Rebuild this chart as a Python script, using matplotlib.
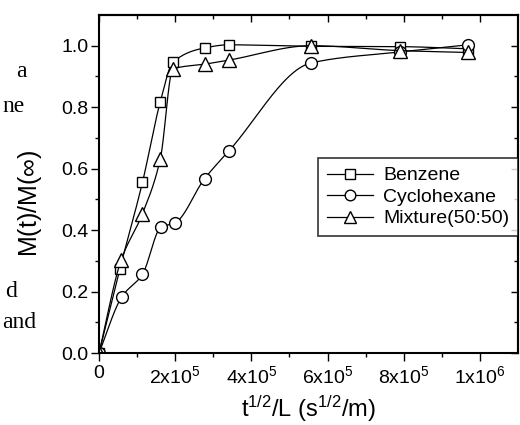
import numpy as np
import matplotlib
matplotlib.use("Agg")
import matplotlib.pyplot as plt

plt.rcParams['font.family'] = ['Liberation Sans', 'DejaVu Sans']
plt.rcParams['mathtext.fontset'] = 'custom'
plt.rcParams['mathtext.rm'] = 'Liberation Sans'
plt.rcParams['mathtext.it'] = 'Liberation Sans:italic'
plt.rcParams['mathtext.bf'] = 'Liberation Sans:bold'

# ---- data ----
benzene_x = [0, 0.55e5, 1.14e5, 1.61e5, 1.94e5, 2.78e5, 3.40e5, 5.57e5, 7.91e5, 9.69e5]
benzene_y = [0.0, 0.275, 0.555, 0.818, 0.946, 0.993, 1.003, 0.998, 0.997, 0.99]

cyclo_x = [0, 0.60e5, 1.14e5, 1.63e5, 1.99e5, 2.77e5, 3.40e5, 5.57e5, 7.91e5, 9.69e5]
cyclo_y = [0.0, 0.183, 0.256, 0.41, 0.423, 0.567, 0.656, 0.944, 0.98, 1.003]

mix_x = [0, 0.58e5, 1.14e5, 1.61e5, 1.94e5, 2.78e5, 3.40e5, 5.57e5, 7.91e5, 9.69e5]
mix_y = [0.0, 0.302, 0.453, 0.632, 0.924, 0.94, 0.953, 1.0, 0.984, 0.978]

x_ticks = [0, 2e5, 4e5, 6e5, 8e5, 1e6]
x_ticklabels = ['0', '2x10$^5$', '4x10$^5$', '6x10$^5$', '8x10$^5$', '1x10$^6$']
y_ticks = [0.0, 0.2, 0.4, 0.6, 0.8, 1.0]
y_ticklabels = ['0.0', '0.2', '0.4', '0.6', '0.8', '1.0']


def pchip(x, y, xn):
    x = np.asarray(x, float); y = np.asarray(y, float)
    h = np.diff(x); d = np.diff(y) / h
    m = np.zeros_like(y)
    for k in range(1, len(x) - 1):
        if d[k - 1] * d[k] <= 0:
            m[k] = 0
        else:
            w1 = 2 * h[k] + h[k - 1]; w2 = h[k] + 2 * h[k - 1]
            m[k] = (w1 + w2) / (w1 / d[k - 1] + w2 / d[k])
    m[0] = d[0]; m[-1] = d[-1]
    idx = np.clip(np.searchsorted(x, xn) - 1, 0, len(x) - 2)
    t = (xn - x[idx]) / h[idx]
    h00 = 2 * t**3 - 3 * t**2 + 1; h10 = t**3 - 2 * t**2 + t
    h01 = -2 * t**3 + 3 * t**2; h11 = t**3 - t**2
    return h00 * y[idx] + h10 * h[idx] * m[idx] + h01 * y[idx + 1] + h11 * h[idx] * m[idx + 1]


W, H = 520, 425
fig = plt.figure(figsize=(W / 100, H / 100), dpi=100)
ax = fig.add_axes([99 / W, 1 - 353 / H, (518 - 99) / W, (353 - 15) / H])

series = [
    (benzene_x, benzene_y, 's', 7.5, 'Benzene'),
    (cyclo_x, cyclo_y, 'o', 8.5, 'Cyclohexane'),
    (mix_x, mix_y, '^', 9.5, 'Mixture(50:50)'),
]
for xs, ys, mk, ms, lab in series:
    xn = np.linspace(xs[0], xs[-1], 600)
    ax.plot(xn, pchip(xs, ys, xn), color='black', lw=0.9)
    ax.plot(xs, ys, linestyle='none', marker=mk, ms=ms, mfc='white', mec='black', mew=1.0)
    ax.plot([], [], color='black', lw=0.9, marker=mk, ms=ms * 0.9, mfc='white', mec='black',
            mew=1.0, label=lab)

ax.set_xlim(0, 1.1e6)
ax.set_ylim(0, 1.1)
ax.set_xticks(x_ticks)
ax.set_xticklabels(x_ticklabels)
ax.set_yticks(y_ticks)
ax.set_yticklabels(y_ticklabels)
ax.set_xticks(np.arange(1e5, 1.1e6, 2e5), minor=True)
ax.set_yticks(np.arange(0.1, 1.1, 0.2), minor=True)

for s in ax.spines.values():
    s.set_linewidth(1.5)
ax.tick_params(which='both', labelsize=14, width=1.0)
ax.tick_params(which='major', length=5.5)
ax.tick_params(which='minor', length=3)
ax.tick_params(axis='x', which='both', direction='out', top=False, pad=3)
ax.tick_params(axis='y', which='both', direction='out', right=False, pad=2)
# mirrored inward ticks on top/right
ax2 = ax.secondary_xaxis('top')
ax2.set_xticks(x_ticks); ax2.set_xticks(np.arange(1e5, 1.1e6, 2e5), minor=True)
ax2.tick_params(which='both', direction='in', labeltop=False, width=1.0)
ax2.tick_params(which='major', length=5); ax2.tick_params(which='minor', length=3)
ax2.spines['top'].set_linewidth(1.5)
ay2 = ax.secondary_yaxis('right')
ay2.set_yticks(y_ticks); ay2.set_yticks(np.arange(0.1, 1.1, 0.2), minor=True)
ay2.tick_params(which='both', direction='in', labelright=False, width=1.0)
ay2.tick_params(which='major', length=5); ay2.tick_params(which='minor', length=3)
ay2.spines['right'].set_linewidth(1.5)

ax.set_xlabel('t$^{1/2}$/L (s$^{1/2}$/m)', fontsize=17, labelpad=5)
fig.text(30 / W, 1 - 203 / H, 'M(t)/M($\\infty$)', rotation=90, fontsize=18,
         ha='center', va='center')

leg = ax.legend(loc='upper right', bbox_to_anchor=(1.0, (353 - 158) / 338), borderaxespad=0,
                fontsize=14, frameon=True, fancybox=False, edgecolor='black',
                handlelength=2.4, handletextpad=0.5, labelspacing=0.2, borderpad=0.45)
leg.get_frame().set_linewidth(1.2)

serif = dict(family=['Liberation Serif', 'DejaVu Serif'], fontsize=17, ha='right', va='baseline')
fig.text(27 / W, 1 - 77 / H, 'a', **serif)
fig.text(25 / W, 1 - 112 / H, 'ne', **serif)
fig.text(17 / W, 1 - 297 / H, 'd', **serif)
fig.text(36 / W, 1 - 328 / H, 'and', **serif)

fig.savefig('out.png', dpi=100)
